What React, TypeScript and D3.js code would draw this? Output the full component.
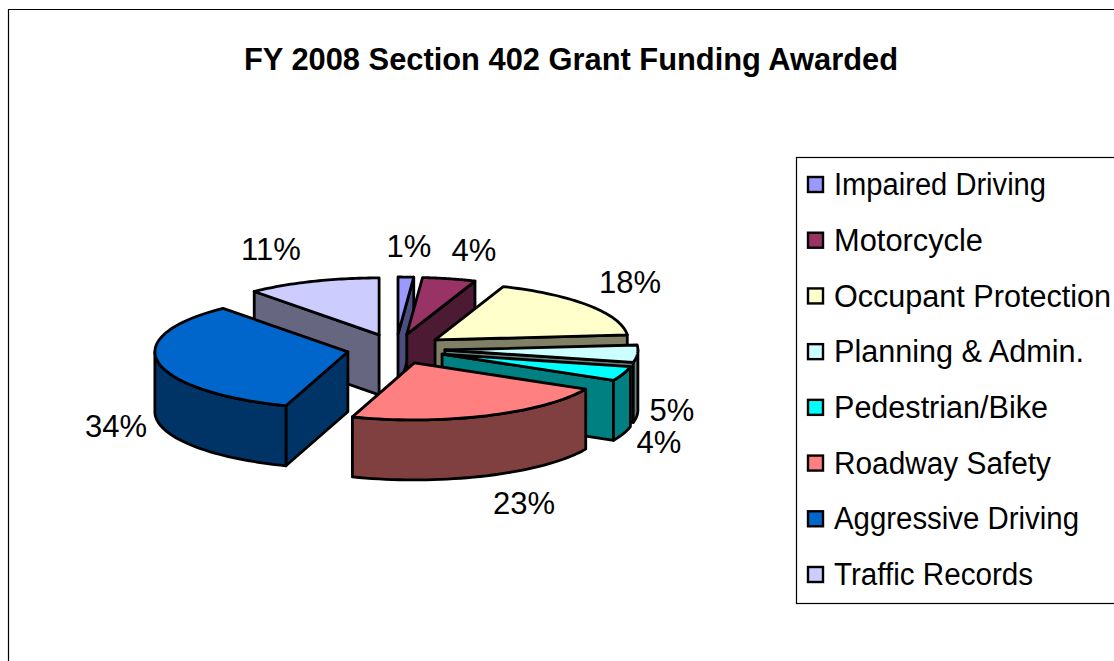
import React from 'react';
import * as d3 from 'd3';

const categories = ['Impaired Driving', 'Motorcycle', 'Occupant Protection', 'Planning & Admin.', 'Pedestrian/Bike', 'Roadway Safety', 'Aggressive Driving', 'Traffic Records'];
const values = [1.3, 4.45, 17.85, 4.9, 4.1, 22.6, 33.6, 11.2];
const colors = ['#9999ff', '#993366', '#ffffcc', '#ccffff', '#00ffff', '#ff8080', '#0066cc', '#ccccff'];
const labelCenters: [number, number][] = [[409, 246], [474, 250], [630, 282], [672, 410], [659, 442], [524, 503], [116, 426], [271, 249]];
const legendWidths = [212, 149, 277, 250, 214, 217, 245, 199];

const W = 1114, H = 661;
const cx = 396, cy = 349, rx = 193, ry = 57, depth = 60, ex = 49, ey = 15;
const FONT = '"Liberation Sans", Arial, sans-serif';

const px = d3.scaleLinear().domain([-1, 1]).range([-rx, rx]);
const py = d3.scaleLinear().domain([-1, 1]).range([-ry, ry]);
const shade = (c: string) => { const r = d3.rgb(c); return d3.rgb(r.r / 2, r.g / 2, r.b / 2).formatHex(); };

const arcs = d3.pie<number>().sort(null).startAngle(0).endAngle(2 * Math.PI)(values);

function slice(i: number) {
  const a = arcs[i];
  const mid = (a.startAngle + a.endAngle) / 2;
  const ox = cx + ex * Math.sin(mid), oy = cy - ey * Math.cos(mid);
  const pt = (t: number, dz = 0): [number, number] => [ox + px(Math.sin(t)), oy + py(-Math.cos(t)) + dz];
  const rim = (t0: number, t1: number, dz = 0) => d3.range(0, 41).map(k => pt(t0 + (t1 - t0) * k / 40, dz));
  const line = d3.line();
  const apex: [number, number] = [ox, oy];
  const apexLow: [number, number] = [ox, oy + depth];
  const top = line([apex, ...rim(a.startAngle, a.endAngle)])! + 'Z';
  const wall = (t: number) => line([apex, pt(t), pt(t, depth), apexLow])! + 'Z';
  const walls: string[] = [];
  if (a.startAngle > Math.PI) walls.push(wall(a.startAngle));
  if (a.endAngle < Math.PI) walls.push(wall(a.endAngle));
  const f0 = Math.max(a.startAngle, Math.PI / 2), f1 = Math.min(a.endAngle, 3 * Math.PI / 2);
  const outer = f1 > f0 ? line([...rim(f0, f1), ...rim(f0, f1, depth).reverse()])! + 'Z' : null;
  return { top, walls, outer, order: -Math.cos(mid) };
}

const order = values.map((_, i) => i).sort((p, q) => slice(p).order - slice(q).order);

export default function App() {
  const legendY = d3.scalePoint<string>().domain(categories).range([184, 574]);
  return (
    <svg width={W} height={H} style={{ position: 'absolute', left: 0, top: 0, background: '#fff' }} fontFamily={FONT}>
      <path d={`M8.5 ${H}V9.5H${W}`} fill="none" stroke="#000" strokeWidth={1.2} />
      <text x={571} y={70} textAnchor="middle" fontSize={31} fontWeight="bold" textLength={654} lengthAdjust="spacingAndGlyphs">FY 2008 Section 402 Grant Funding Awarded</text>
      <g stroke="#000" strokeWidth={2.8} strokeLinejoin="round">
        {order.map(i => {
          const s = slice(i);
          const dark = shade(colors[i]);
          return (
            <g key={categories[i]}>
              {s.walls.map((d, k) => <path key={k} d={d} fill={dark} />)}
              {s.outer && <path d={s.outer} fill={dark} />}
              <path d={s.top} fill={colors[i]} />
            </g>
          );
        })}
      </g>
      <g fontSize={31} fill="#000" textAnchor="middle">
        {values.map((v, i) => (
          <text key={i} x={labelCenters[i][0]} y={labelCenters[i][1]} dy="0.36em">{Math.round(v)}%</text>
        ))}
      </g>
      <rect x={796.5} y={157.5} width={W} height={446} fill="#fff" stroke="#000" strokeWidth={1.2} />
      {categories.map((c, i) => {
        const y = legendY(c)!;
        return (
          <g key={c}>
            <rect x={808} y={y - 7} width={15} height={15} fill={colors[i]} stroke="#000" strokeWidth={2.4} />
            <text x={834} y={y} dy="0.36em" fontSize={31} fill="#000" textLength={legendWidths[i]} lengthAdjust="spacingAndGlyphs">{c}</text>
          </g>
        );
      })}
    </svg>
  );
}
